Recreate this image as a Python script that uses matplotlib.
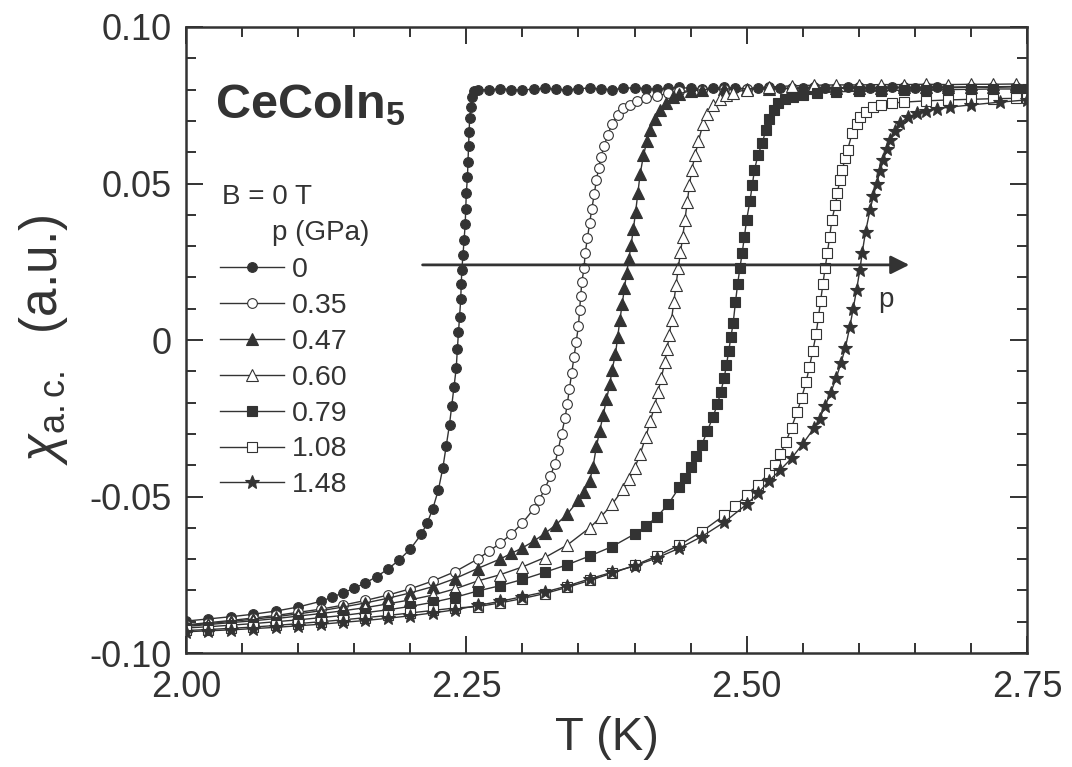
import numpy as np
import matplotlib
matplotlib.use('Agg')
from matplotlib import pyplot as plt
from matplotlib.ticker import FixedLocator, MultipleLocator, FuncFormatter

plt.rcParams['font.family'] = ['Liberation Sans', 'DejaVu Sans']
plt.rcParams['mathtext.fontset'] = 'custom'
plt.rcParams['mathtext.rm'] = 'Liberation Sans'
plt.rcParams['mathtext.it'] = 'Liberation Sans:italic'
plt.rcParams['mathtext.bf'] = 'Liberation Sans:bold'
plt.rcParams['axes.unicode_minus'] = False

ink = '#333333'

# chi_ac vs T at B = 0, one run per pressure (GPa)
pressures = ['0', '0.35', '0.47', '0.60', '0.79', '1.08', '1.48']

t_000 = [2.00, 2.02, 2.04, 2.06, 2.08, 2.10, 2.12, 2.13, 2.14, 2.15, 2.16, 2.17, 2.18, 2.19, 2.20,
         2.21, 2.215, 2.22, 2.225, 2.229, 2.232, 2.235, 2.237, 2.239, 2.241, 2.242, 2.243, 2.244,
         2.245, 2.2455, 2.246, 2.247, 2.248, 2.249, 2.2495, 2.250, 2.251, 2.2515, 2.252, 2.2525,
         2.253, 2.254, 2.255, 2.257, 2.26, 2.27, 2.28, 2.29, 2.30, 2.31, 2.32, 2.33, 2.34, 2.35,
         2.36, 2.37, 2.38, 2.39, 2.40, 2.41, 2.42, 2.43, 2.44, 2.45, 2.46, 2.47, 2.48, 2.49, 2.50,
         2.51, 2.52, 2.53, 2.54, 2.55, 2.56, 2.57, 2.58, 2.59, 2.60, 2.61, 2.62, 2.63, 2.64, 2.65,
         2.66, 2.67]
chi_000 = [-0.0898, -0.0891, -0.0884, -0.0876, -0.0866, -0.0853, -0.0835, -0.0822, -0.0808, -0.0793,
           -0.0776, -0.0756, -0.0732, -0.0703, -0.0668, -0.0620, -0.0585, -0.0540, -0.0480, -0.0410,
           -0.0340, -0.0270, -0.0210, -0.0150, -0.0090, -0.0030, 0.0025, 0.0075, 0.0130, 0.0180,
           0.0224, 0.0270, 0.0320, 0.0370, 0.0420, 0.0470, 0.0520, 0.0570, 0.0620, 0.0665, 0.0710,
           0.0745, 0.0775, 0.0795, 0.0800, 0.0799, 0.0803, 0.0800, 0.0798, 0.0802, 0.0804, 0.0801,
           0.0799, 0.0803, 0.0805, 0.0802, 0.0800, 0.0804, 0.0806, 0.0803, 0.0801, 0.0805, 0.0807,
           0.0804, 0.0802, 0.0805, 0.0807, 0.0805, 0.0803, 0.0806, 0.0808, 0.0805, 0.0803, 0.0806,
           0.0808, 0.0805, 0.0804, 0.0807, 0.0809, 0.0806, 0.0804, 0.0807, 0.0809, 0.0806, 0.0805,
           0.0808]

t_035 = [2.00, 2.02, 2.04, 2.06, 2.08, 2.10, 2.12, 2.14, 2.16, 2.18, 2.20, 2.22, 2.24, 2.26, 2.27,
         2.28, 2.29, 2.30, 2.31, 2.315, 2.32, 2.325, 2.329, 2.332, 2.335, 2.338, 2.340, 2.342, 2.344,
         2.346, 2.348, 2.350, 2.351, 2.352, 2.353, 2.355, 2.356, 2.358, 2.360, 2.362, 2.364, 2.366,
         2.368, 2.370, 2.373, 2.376, 2.380, 2.385, 2.390, 2.396, 2.402, 2.41, 2.42, 2.43, 2.44, 2.46,
         2.48, 2.50, 2.52, 2.54, 2.56, 2.58, 2.60, 2.62, 2.64, 2.66, 2.68, 2.70, 2.72, 2.74]
chi_035 = [-0.0910, -0.0903, -0.0896, -0.0888, -0.0880, -0.0870, -0.0860, -0.0847, -0.0832, -0.0815,
           -0.0795, -0.0770, -0.0740, -0.0700, -0.0675, -0.0650, -0.0620, -0.0585, -0.0540, -0.0512,
           -0.0475, -0.0435, -0.0395, -0.0350, -0.0300, -0.0250, -0.0205, -0.0155, -0.0105, -0.0055,
           -0.0005, 0.0045, 0.0095, 0.0140, 0.0185, 0.0230, 0.0278, 0.0325, 0.0375, 0.0420, 0.0465,
           0.0510, 0.0550, 0.0585, 0.0620, 0.0655, 0.0690, 0.0720, 0.0740, 0.0752, 0.0762, 0.0772,
           0.0780, 0.0788, 0.0794, 0.0799, 0.0801, 0.0803, 0.0802, 0.0804, 0.0803, 0.0805, 0.0804,
           0.0806, 0.0805, 0.0807, 0.0806, 0.0808, 0.0807, 0.0809]

t_047 = [2.00, 2.02, 2.04, 2.06, 2.08, 2.10, 2.12, 2.14, 2.16, 2.18, 2.20, 2.22, 2.24, 2.26, 2.28,
         2.29, 2.30, 2.31, 2.32, 2.33, 2.34, 2.35, 2.355, 2.360, 2.363, 2.366, 2.369, 2.372, 2.375,
         2.378, 2.380, 2.383, 2.385, 2.387, 2.389, 2.391, 2.393, 2.395, 2.397, 2.399, 2.401, 2.403,
         2.405, 2.408, 2.411, 2.414, 2.418, 2.423, 2.428, 2.434, 2.44, 2.45, 2.46, 2.48, 2.50, 2.52,
         2.54, 2.56, 2.58, 2.60, 2.62, 2.64, 2.66, 2.68, 2.70, 2.72, 2.74]
chi_047 = [-0.0912, -0.0906, -0.0899, -0.0892, -0.0884, -0.0875, -0.0865, -0.0853, -0.0840, -0.0825,
           -0.0808, -0.0788, -0.0762, -0.0730, -0.0700, -0.0682, -0.0664, -0.0643, -0.0618, -0.0590,
           -0.0556, -0.0512, -0.0485, -0.0450, -0.0405, -0.0340, -0.0290, -0.0240, -0.0190, -0.0140,
           -0.0095, -0.0045, 0.0010, 0.0065, 0.0115, 0.0165, 0.0215, 0.0260, 0.0305, 0.0355, 0.0410,
           0.0470, 0.0530, 0.0590, 0.0635, 0.0670, 0.0705, 0.0735, 0.0758, 0.0776, 0.0787, 0.0796,
           0.0800, 0.0802, 0.0803, 0.0803, 0.0804, 0.0805, 0.0805, 0.0806, 0.0806, 0.0807, 0.0808,
           0.0808, 0.0809, 0.0809, 0.0810]

t_060 = [2.00, 2.02, 2.04, 2.06, 2.08, 2.10, 2.12, 2.14, 2.16, 2.18, 2.20, 2.22, 2.24, 2.26, 2.28,
         2.30, 2.32, 2.34, 2.36, 2.37, 2.38, 2.39, 2.395, 2.40, 2.405, 2.41, 2.414, 2.418, 2.421,
         2.424, 2.427, 2.429, 2.431, 2.433, 2.435, 2.437, 2.439, 2.441, 2.443, 2.445, 2.447, 2.449,
         2.451, 2.454, 2.457, 2.461, 2.465, 2.470, 2.476, 2.482, 2.488, 2.50, 2.52, 2.54, 2.56, 2.58,
         2.60, 2.62, 2.64, 2.66, 2.68, 2.70, 2.72, 2.74]
chi_060 = [-0.0915, -0.0909, -0.0903, -0.0897, -0.0890, -0.0882, -0.0874, -0.0865, -0.0855, -0.0843,
           -0.0830, -0.0815, -0.0795, -0.0770, -0.0750, -0.0725, -0.0695, -0.0655, -0.0600, -0.0565,
           -0.0525, -0.0475, -0.0445, -0.0410, -0.0365, -0.0310, -0.0260, -0.0210, -0.0165, -0.0120,
           -0.0070, -0.0030, 0.0015, 0.0065, 0.0120, 0.0175, 0.0230, 0.0280, 0.0330, 0.0385, 0.0440,
           0.0495, 0.0543, 0.0590, 0.0635, 0.0690, 0.0722, 0.0750, 0.0770, 0.0782, 0.0790, 0.0800,
           0.0808, 0.0812, 0.0814, 0.0815, 0.0815, 0.0816, 0.0816, 0.0817, 0.0816, 0.0817, 0.0817,
           0.0818]

t_079 = [2.00, 2.02, 2.04, 2.06, 2.08, 2.10, 2.12, 2.14, 2.16, 2.18, 2.20, 2.22, 2.24, 2.26, 2.28,
         2.30, 2.32, 2.34, 2.36, 2.38, 2.40, 2.41, 2.42, 2.43, 2.44, 2.445, 2.45, 2.455, 2.46, 2.465,
         2.47, 2.474, 2.477, 2.480, 2.482, 2.484, 2.486, 2.488, 2.490, 2.492, 2.494, 2.496, 2.498,
         2.500, 2.503, 2.505, 2.507, 2.510, 2.514, 2.517, 2.520, 2.524, 2.528, 2.534, 2.541, 2.55,
         2.563, 2.58, 2.60, 2.62, 2.64, 2.66, 2.68, 2.70, 2.72, 2.74, 2.75]
chi_079 = [-0.0920, -0.0916, -0.0911, -0.0906, -0.0900, -0.0894, -0.0887, -0.0880, -0.0871, -0.0862,
           -0.0851, -0.0838, -0.0822, -0.0802, -0.0785, -0.0765, -0.0742, -0.0718, -0.0690, -0.0660,
           -0.0620, -0.0595, -0.0565, -0.0525, -0.0470, -0.0440, -0.0405, -0.0370, -0.0335, -0.0290,
           -0.0245, -0.0205, -0.0165, -0.0120, -0.0080, -0.0035, 0.0010, 0.0055, 0.0120, 0.0180,
           0.0230, 0.0278, 0.0330, 0.0385, 0.0445, 0.0495, 0.0543, 0.0590, 0.0630, 0.0670, 0.0705,
           0.0735, 0.0757, 0.0770, 0.0777, 0.0782, 0.0789, 0.0793, 0.0795, 0.0797, 0.0798, 0.0799,
           0.0800, 0.0801, 0.0802, 0.0802, 0.0803]

t_108 = [2.00, 2.02, 2.04, 2.06, 2.08, 2.10, 2.12, 2.14, 2.16, 2.18, 2.20, 2.22, 2.24, 2.26, 2.28,
         2.30, 2.32, 2.34, 2.36, 2.38, 2.40, 2.42, 2.44, 2.46, 2.48, 2.49, 2.50, 2.51, 2.52, 2.525,
         2.53, 2.535, 2.54, 2.545, 2.549, 2.553, 2.556, 2.559, 2.562, 2.564, 2.566, 2.568, 2.570,
         2.572, 2.574, 2.576, 2.579, 2.581, 2.583, 2.585, 2.588, 2.590, 2.594, 2.598, 2.601, 2.606,
         2.613, 2.62, 2.63, 2.64, 2.66, 2.68, 2.70, 2.72, 2.74, 2.75]
chi_108 = [-0.0928, -0.0925, -0.0921, -0.0917, -0.0912, -0.0906, -0.0900, -0.0894, -0.0887, -0.0880,
           -0.0872, -0.0864, -0.0856, -0.0852, -0.0840, -0.0826, -0.0810, -0.0790, -0.0768, -0.0745,
           -0.0720, -0.0690, -0.0655, -0.0612, -0.0560, -0.0530, -0.0495, -0.0462, -0.0425, -0.0400,
           -0.0365, -0.0325, -0.0280, -0.0230, -0.0185, -0.0135, -0.0085, -0.0035, 0.0020, 0.0073,
           0.0125, 0.0180, 0.0230, 0.0278, 0.0330, 0.0383, 0.0430, 0.0470, 0.0510, 0.0543, 0.0580,
           0.0607, 0.0660, 0.0690, 0.0712, 0.0730, 0.0744, 0.0751, 0.0757, 0.0760, 0.0764, 0.0767,
           0.0769, 0.0771, 0.0772, 0.0773]

t_148 = [2.00, 2.02, 2.04, 2.06, 2.08, 2.10, 2.12, 2.14, 2.16, 2.18, 2.20, 2.22, 2.24, 2.26, 2.28,
         2.30, 2.32, 2.34, 2.36, 2.38, 2.40, 2.42, 2.44, 2.46, 2.48, 2.50, 2.51, 2.52, 2.53, 2.54,
         2.55, 2.56, 2.565, 2.57, 2.575, 2.58, 2.584, 2.588, 2.592, 2.595, 2.598, 2.601, 2.603,
         2.606, 2.610, 2.613, 2.616, 2.619, 2.622, 2.625, 2.628, 2.632, 2.637, 2.644, 2.652, 2.66,
         2.67, 2.681, 2.70, 2.726, 2.75]
chi_148 = [-0.0932, -0.0929, -0.0926, -0.0922, -0.0918, -0.0913, -0.0908, -0.0902, -0.0896, -0.0889,
           -0.0881, -0.0872, -0.0862, -0.0848, -0.0835, -0.0820, -0.0805, -0.0786, -0.0763, -0.0742,
           -0.0722, -0.0696, -0.0665, -0.0628, -0.0582, -0.0525, -0.0490, -0.0450, -0.0415, -0.0378,
           -0.0332, -0.0282, -0.0252, -0.0210, -0.0168, -0.0120, -0.0075, -0.0025, 0.0042, 0.0100,
           0.0160, 0.0225, 0.0278, 0.0345, 0.0415, 0.0460, 0.0500, 0.0540, 0.0575, 0.0610, 0.0640,
           0.0668, 0.0693, 0.0712, 0.0725, 0.0733, 0.0739, 0.0744, 0.0751, 0.0760, 0.0767]

series = [
    (t_000, chi_000, 'o', ink, 7.0),
    (t_035, chi_035, 'o', 'white', 7.0),
    (t_047, chi_047, '^', ink, 8.0),
    (t_060, chi_060, '^', 'white', 8.0),
    (t_079, chi_079, 's', ink, 7.0),
    (t_108, chi_108, 's', 'white', 7.0),
    (t_148, chi_148, '*', ink, 10.0),
]

fig = plt.figure(figsize=(10.72, 7.67), dpi=100)
ax = fig.add_axes([0.1735, 0.1486, 0.7845, 0.8162])

handles = []
for (t, chi, mk, face, ms), lab in zip(series, pressures):
    line, = ax.plot(t, chi, '-', color=ink, lw=1.0, marker=mk, ms=ms,
                    markerfacecolor=face, markeredgecolor=ink, markeredgewidth=0.8, label=lab)
    handles.append(line)

ax.set_xlim(2.00, 2.75)
ax.set_ylim(-0.10, 0.10)

ax.xaxis.set_major_locator(FixedLocator([2.00, 2.25, 2.50, 2.75]))
ax.xaxis.set_minor_locator(MultipleLocator(0.05))
ax.yaxis.set_major_locator(FixedLocator([-0.10, -0.05, 0.0, 0.05, 0.10]))
ax.yaxis.set_minor_locator(MultipleLocator(0.01))
ax.xaxis.set_major_formatter(FuncFormatter(lambda v, p: f'{v:.2f}'))
ax.yaxis.set_major_formatter(FuncFormatter(lambda v, p: '0' if abs(v) < 1e-9 else f'{v:.2f}'))

ax.tick_params(which='both', direction='in', top=True, right=True, color=ink, width=1.4,
               labelsize=26, labelcolor=ink)
ax.tick_params(which='major', length=12)
ax.tick_params(which='minor', length=7)
ax.tick_params(axis='x', pad=12)
ax.tick_params(axis='y', pad=10)
for s in ax.spines.values():
    s.set_color(ink)
    s.set_linewidth(1.8)

ax.set_xlabel('T (K)', fontsize=34, color=ink, labelpad=8)
ax.set_ylabel(r'$\chi_{\mathregular{a{.}c{.}}}$  (a.u.)', fontsize=37, color=ink, labelpad=14)

ax.text(0.034, 0.855, r'$\mathbf{CeCoIn_5}$', transform=ax.transAxes, fontsize=35,
        color=ink, va='baseline')
ax.text(0.043, 0.728, 'B = 0 T', transform=ax.transAxes, fontsize=20, color=ink, va='center')
ax.text(0.102, 0.671, 'p (GPa)', transform=ax.transAxes, fontsize=20, color=ink, va='center')

leg = ax.legend(handles=handles, loc='upper left', bbox_to_anchor=(0.040, 0.632),
                frameon=False, fontsize=20.5, handlelength=2.25, handletextpad=0.3,
                labelspacing=0.345, borderpad=0, borderaxespad=0, markerscale=1.0)
for txt in leg.get_texts():
    txt.set_color(ink)

# pressure arrow
ax.annotate('', xy=(2.645, 0.024), xytext=(2.211, 0.024),
            arrowprops=dict(arrowstyle='-|>', color=ink, lw=2.0, mutation_scale=28,
                            shrinkA=0, shrinkB=0))
ax.text(2.617, 0.0128, 'p', fontsize=20, color=ink, va='center')

fig.savefig('out.png', dpi=100)
